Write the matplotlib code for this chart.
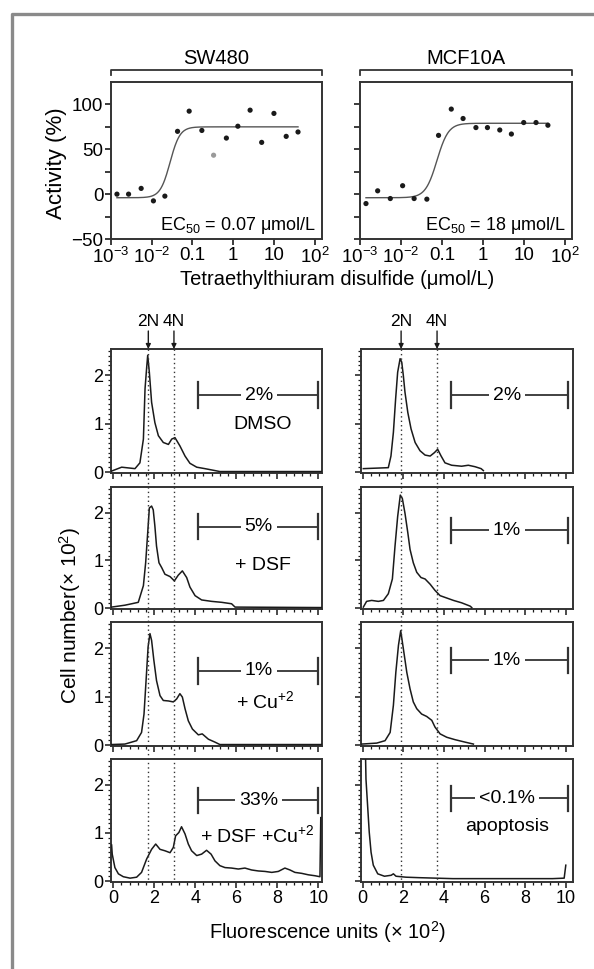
import numpy as np
import matplotlib
matplotlib.use('Agg')
import matplotlib.pyplot as plt
import matplotlib.transforms as mtransforms
from matplotlib.lines import Line2D
from matplotlib.ticker import MultipleLocator, NullFormatter

plt.rcParams['font.family'] = ['Liberation Sans', 'DejaVu Sans']
plt.rcParams['mathtext.fontset'] = 'custom'
plt.rcParams['mathtext.rm'] = 'Liberation Sans'
plt.rcParams['mathtext.it'] = 'Liberation Sans:italic'
plt.rcParams['mathtext.bf'] = 'Liberation Sans:bold'

# ---- dose response data ----
conc = [0.0014, 0.0027, 0.0055, 0.011, 0.021, 0.043, 0.083, 0.17,
        0.33, 0.68, 1.3, 2.6, 5.0, 10, 20, 39]
sw480_act = [0, 0, 6.4, -7.5, -2.2, 70, 92.5, 71, 43.4, 62.5, 75.7, 93.6,
             57.7, 90, 64.4, 69.3]
mcf_act = [-10.5, 3.7, -4.9, 9.4, -4.9, -5.6, 65.5, 94.8, 84.3, 74.2, 74.2,
           71.5, 67, 79.8, 79.8, 76.8]
sw480_outlier = 8   # gray point
# fitted curve params: bottom, top, log10 midpoint, hill slope
sw480_fit = (-4, 75, -1.55, 3.6)
mcf_fit = (-4, 79, -1.12, 3.1)

# ---- cell cycle histograms (x in 10^2 units, y in 10^2 cells) ----
l1_x = [-0.08, 0.41, 1.06, 1.30, 1.47, 1.55, 1.63, 1.68, 1.76, 1.87, 2.03, 2.20,
        2.44, 2.69, 2.85, 3.01, 3.25, 3.50, 3.74, 4.07, 4.47, 4.96, 5.20, 10.2]
l1_y = [0.02, 0.10, 0.07, 0.19, 0.68, 1.72, 2.16, 2.41, 2.06, 1.44, 1.02, 0.75,
        0.61, 0.57, 0.68, 0.71, 0.54, 0.33, 0.18, 0.10, 0.07, 0.03, 0.01, 0.01]
l2_x = [-0.08, 0.57, 0.90, 1.22, 1.47, 1.58, 1.68, 1.76, 1.87, 1.95, 2.03, 2.11,
        2.23, 2.36, 2.52, 2.77, 2.98, 3.17, 3.37, 3.58, 3.74, 3.99, 4.31, 4.80,
        5.29, 5.77, 5.94, 10.2]
l2_y = [0.02, 0.06, 0.09, 0.12, 0.47, 0.95, 1.58, 2.10, 2.14, 2.06, 1.72, 1.30,
        0.95, 0.85, 0.71, 0.66, 0.57, 0.69, 0.78, 0.64, 0.44, 0.26, 0.17, 0.14,
        0.12, 0.09, 0.02, 0.01]
l3_x = [-0.08, 0.57, 1.14, 1.38, 1.50, 1.60, 1.70, 1.79, 1.87, 1.98, 2.11, 2.28,
        2.44, 2.69, 2.93, 3.09, 3.25, 3.37, 3.50, 3.66, 3.86, 4.15, 4.34, 4.64,
        4.96, 5.20, 10.2]
l3_y = [0.01, 0.02, 0.09, 0.26, 0.64, 1.33, 2.03, 2.30, 2.16, 1.75, 1.33, 1.02,
        0.92, 0.91, 0.89, 0.95, 1.06, 0.99, 0.75, 0.50, 0.33, 0.21, 0.23, 0.12,
        0.06, 0.01, 0.01]
l4_x = [-0.08, -0.05, 0.08, 0.25, 0.49, 0.82, 1.14, 1.38, 1.63, 1.87, 2.07, 2.28,
        2.52, 2.77, 2.93, 3.04, 3.20, 3.33, 3.50, 3.66, 3.82, 4.07, 4.31, 4.55,
        4.77, 4.96, 5.20, 5.45, 5.77, 6.10, 6.42, 6.75, 7.07, 7.40, 7.73, 8.05,
        8.37, 8.62, 8.86, 9.19, 9.51, 9.84, 10.08, 10.12]
l4_y = [0.75, 0.56, 0.28, 0.15, 0.09, 0.06, 0.08, 0.18, 0.46, 0.66, 0.77, 0.66,
        0.63, 0.59, 0.70, 0.94, 1.01, 1.13, 0.98, 0.77, 0.63, 0.53, 0.56, 0.64,
        0.56, 0.42, 0.32, 0.28, 0.27, 0.25, 0.27, 0.23, 0.21, 0.20, 0.18, 0.20,
        0.27, 0.23, 0.18, 0.16, 0.13, 0.11, 0.09, 1.32]
r1_x = [0.03, 1.26, 1.39, 1.51, 1.62, 1.72, 1.84, 1.92, 2.00, 2.08, 2.22, 2.38,
        2.58, 2.82, 3.07, 3.32, 3.53, 3.69, 3.86, 4.05, 4.38, 4.87, 5.20, 5.53,
        5.83, 5.94]
r1_y = [0.07, 0.09, 0.33, 0.82, 1.51, 2.06, 2.34, 2.27, 1.99, 1.65, 1.23, 0.89,
        0.61, 0.44, 0.35, 0.33, 0.40, 0.47, 0.33, 0.19, 0.14, 0.12, 0.14, 0.11,
        0.07, 0.03]
r2_x = [0.03, 0.19, 0.44, 0.77, 1.02, 1.26, 1.46, 1.59, 1.72, 1.85, 1.95, 2.08,
        2.22, 2.33, 2.49, 2.66, 2.87, 3.07, 3.32, 3.56, 3.81, 4.14, 4.47, 4.87,
        5.29, 5.37]
r2_y = [0.02, 0.14, 0.16, 0.14, 0.16, 0.30, 0.61, 1.30, 1.92, 2.37, 2.30, 1.99,
        1.58, 1.23, 0.95, 0.75, 0.64, 0.61, 0.50, 0.37, 0.26, 0.21, 0.16, 0.11,
        0.04, 0.01]
r3_x = [-0.04, 0.69, 1.10, 1.35, 1.51, 1.63, 1.76, 1.87, 2.00, 2.17, 2.33, 2.49,
        2.66, 2.90, 3.15, 3.40, 3.56, 3.81, 4.14, 4.55, 5.04, 5.45]
r3_y = [0.02, 0.04, 0.09, 0.26, 0.82, 1.50, 2.06, 2.36, 1.99, 1.50, 1.16, 0.89,
        0.75, 0.64, 0.59, 0.51, 0.37, 0.23, 0.16, 0.11, 0.06, 0.02]
r4_x = [-0.05, 0.12, 0.16, 0.24, 0.32, 0.41, 0.52, 0.74, 1.07, 1.40, 1.51, 1.64,
        2.13, 2.79, 4.43, 6.07, 7.71, 9.35, 9.92, 10.0]
r4_y = [3.0, 3.0, 2.12, 1.57, 1.02, 0.60, 0.33, 0.15, 0.10, 0.12, 0.15, 0.10,
        0.08, 0.07, 0.05, 0.05, 0.05, 0.05, 0.06, 0.33]

hist_left = [(l1_x, l1_y), (l2_x, l2_y), (l3_x, l3_y), (l4_x, l4_y)]
hist_right = [(r1_x, r1_y), (r2_x, r2_y), (r3_x, r3_y), (r4_x, r4_y)]
pct_left = ['2%', '5%', '1%', '33%']
pct_right = ['2%', '1%', '1%', '<0.1%']
pct_y_left = [1.59, 1.71, 1.53, 1.68]
pct_y_right = [1.59, 1.63, 1.75, 1.72]
treat_left = ['DMSO', '+ DSF', '+ Cu$^{+2}$', '+ DSF +Cu$^{+2}$']
treat_x_left = [7.3, 7.3, 7.4, 7.0]
treat_y_left = [0.99, 0.90, 0.90, 0.96]
peaks_left = [1.71, 2.96]    # 2N, 4N
peaks_right = [1.89, 3.66]

W, H = 594, 969
fig = plt.figure(figsize=(W / 100, H / 100), dpi=100)
ink = '#1a1a1a'


def rect(x0, y0, x1, y1):
    return [x0 / W, 1 - y1 / H, (x1 - x0) / W, (y1 - y0) / H]


def fline(xs, ys, **kw):
    fig.add_artist(Line2D([x / W for x in xs], [1 - y / H for y in ys],
                          transform=fig.transFigure, **kw))


# outer gray frame (left and top edge)
fline([12, 12, 600], [975, 14, 14], color='#8a8a8a', lw=2.4)


def logistic(x, p):
    b, t, m, h = p
    return b + (t - b) / (1 + 10 ** ((m - x) * h))


def dose_axes(x0, x1, act, fit, gray_idx, ec_text, label, show_y):
    ax = fig.add_axes(rect(x0, 82, x1, 239))
    cols = [ink] * len(conc)
    if gray_idx is not None:
        cols[gray_idx] = '#9a9a9a'
    ax.scatter(conc, act, s=14, c=cols, zorder=3, linewidths=0)
    lx = np.linspace(np.log10(conc[0]), np.log10(conc[-1]), 300)
    ax.plot(10 ** lx, logistic(lx, fit), color='#555555', lw=1.0)
    ax.set_xscale('log')
    ax.set_xlim(1e-3, 10 ** 2.18)
    ax.set_ylim(-50, 125)
    ax.set_xticks([1e-3, 1e-2, 0.1, 1, 10, 100])
    ax.set_xticklabels(['$10^{-3}$', '$10^{-2}$', '0.1', '1', '10', '$10^{2}$'])
    ax.xaxis.set_minor_locator(matplotlib.ticker.NullLocator())
    ax.set_yticks([-50, -25, 0, 25, 50, 75, 100])
    if show_y:
        ax.set_yticklabels(['\u221250', '', '0', '', '50', '', '100'])
    else:
        ax.set_yticklabels([])
    ax.tick_params(direction='out', length=4, width=1.2, labelsize=13.5,
                   pad=1.5, color=ink)
    for s in ax.spines.values():
        s.set_linewidth(1.4)
        s.set_color('#333333')
    ax.text(0.97, 0.088, ec_text, transform=ax.transAxes, ha='right',
            va='center', fontsize=13)
    # bracket with cell line name
    fline([x0, x0, x1, x1], [75, 70, 70, 75], color='#333333', lw=1.3)
    fig.text((x0 + x1) / 2 / W, 1 - 58 / H, label, ha='center', va='center',
             fontsize=14.5, bbox=dict(fc='white', ec='none', pad=1))
    return ax


dose_axes(111, 322, sw480_act, sw480_fit, sw480_outlier,
          'EC$_{50}$ = 0.07 \u03bcmol/L', 'SW480', True)
dose_axes(360, 572, mcf_act, mcf_fit, None,
          'EC$_{50}$ = 18 \u03bcmol/L', 'MCF10A', False)
fig.text(57 / W, 1 - 163 / H, 'Activity (%)', rotation=90, ha='center',
         va='center', fontsize=16)
fig.text(337 / W, 1 - 280 / H, 'Tetraethylthiuram disulfide (\u03bcmol/L)',
         ha='center', va='center', fontsize=14.5)

# histogram panels
row_top = [349, 487, 622, 759]
row_bot = [473, 609, 746, 882]
cols = [(111, 322, (-0.11, 10.18), hist_left, pct_left, pct_y_left, peaks_left),
        (360.7, 572.7, (-0.1, 10.34), hist_right, pct_right, pct_y_right, peaks_right)]

for ci, (x0, x1, xl, hists, pcts, pys, peaks) in enumerate(cols):
    axes = []
    for ri in range(4):
        ax = fig.add_axes(rect(x0, row_top[ri], x1, row_bot[ri]))
        hx, hy = hists[ri]
        ax.plot(hx, hy, color=ink, lw=1.1, zorder=3)
        ax.set_xlim(*xl)
        ax.set_ylim(-0.02, 2.54)
        ax.xaxis.set_major_locator(MultipleLocator(2))
        ax.xaxis.set_minor_locator(MultipleLocator(0.4))
        ax.yaxis.set_major_locator(MultipleLocator(1))
        ax.yaxis.set_minor_locator(MultipleLocator(0.1))
        ax.tick_params(which='major', direction='out', length=4, width=1.1,
                       labelsize=13, pad=1.5, color=ink)
        ax.tick_params(which='minor', direction='out', length=2.5, width=0.9,
                       color=ink)
        if ri < 3:
            ax.xaxis.set_major_formatter(NullFormatter())
        if ci == 1:
            ax.yaxis.set_major_formatter(NullFormatter())
        for s in ax.spines.values():
            s.set_linewidth(1.4)
            s.set_color('#333333')
        # gate bracket
        gx0, gx1 = (4.12, 10.0) if ci == 0 else (4.35, 10.1)
        gy = pys[ri]
        ax.plot([gx0, gx1], [gy, gy], color='#333333', lw=1.3)
        ax.plot([gx0, gx0], [gy - 0.26, gy + 0.26], color='#333333', lw=1.6)
        ax.plot([gx1, gx1], [gy - 0.26, gy + 0.26], color='#333333', lw=1.6)
        ax.text(7.1, gy, pcts[ri], ha='center', va='center', fontsize=14,
                bbox=dict(fc='white', ec='none', pad=3), zorder=4)
        if ci == 0:
            ax.text(treat_x_left[ri], treat_y_left[ri], treat_left[ri],
                    ha='center', va='center', fontsize=14)
        elif ri == 3:
            ax.text(7.1, 1.14, 'apoptosis', ha='center', va='center',
                    fontsize=14)
        axes.append(ax)
    # dotted 2N / 4N guide lines through all rows
    tr = mtransforms.blended_transform_factory(axes[0].transData, fig.transFigure)
    tr_ax = mtransforms.blended_transform_factory(axes[0].transData,
                                                  axes[0].transAxes)
    for px, lab in zip(peaks, ['2N', '4N']):
        fig.add_artist(Line2D([px, px], [1 - row_top[0] / H, 1 - row_bot[3] / H],
                              transform=tr, color='#333333', lw=1.0,
                              ls=(0, (1, 2.2)), zorder=5))
        axes[0].annotate('', xy=(px, 1.0), xycoords=('data', 'axes fraction'),
                         xytext=(px, 1.0 + 18 / 124),
                         arrowprops=dict(arrowstyle='-|>', color=ink, lw=1.0,
                                         mutation_scale=7, shrinkA=0, shrinkB=0))
        axes[0].text(px, 1.0 + 27 / 124, lab, transform=tr_ax,
                     ha='center', va='center', fontsize=12.5)

fig.text(70 / W, 1 - 615 / H, 'Cell number(\u00d7 10$^{2}$)', rotation=90,
         ha='center', va='center', fontsize=15)
fig.text(327 / W, 1 - 932 / H, 'Fluorescence units (\u00d7 10$^{2}$)',
         ha='center', va='center', fontsize=14.5)

fig.savefig('out.png', dpi=100)
